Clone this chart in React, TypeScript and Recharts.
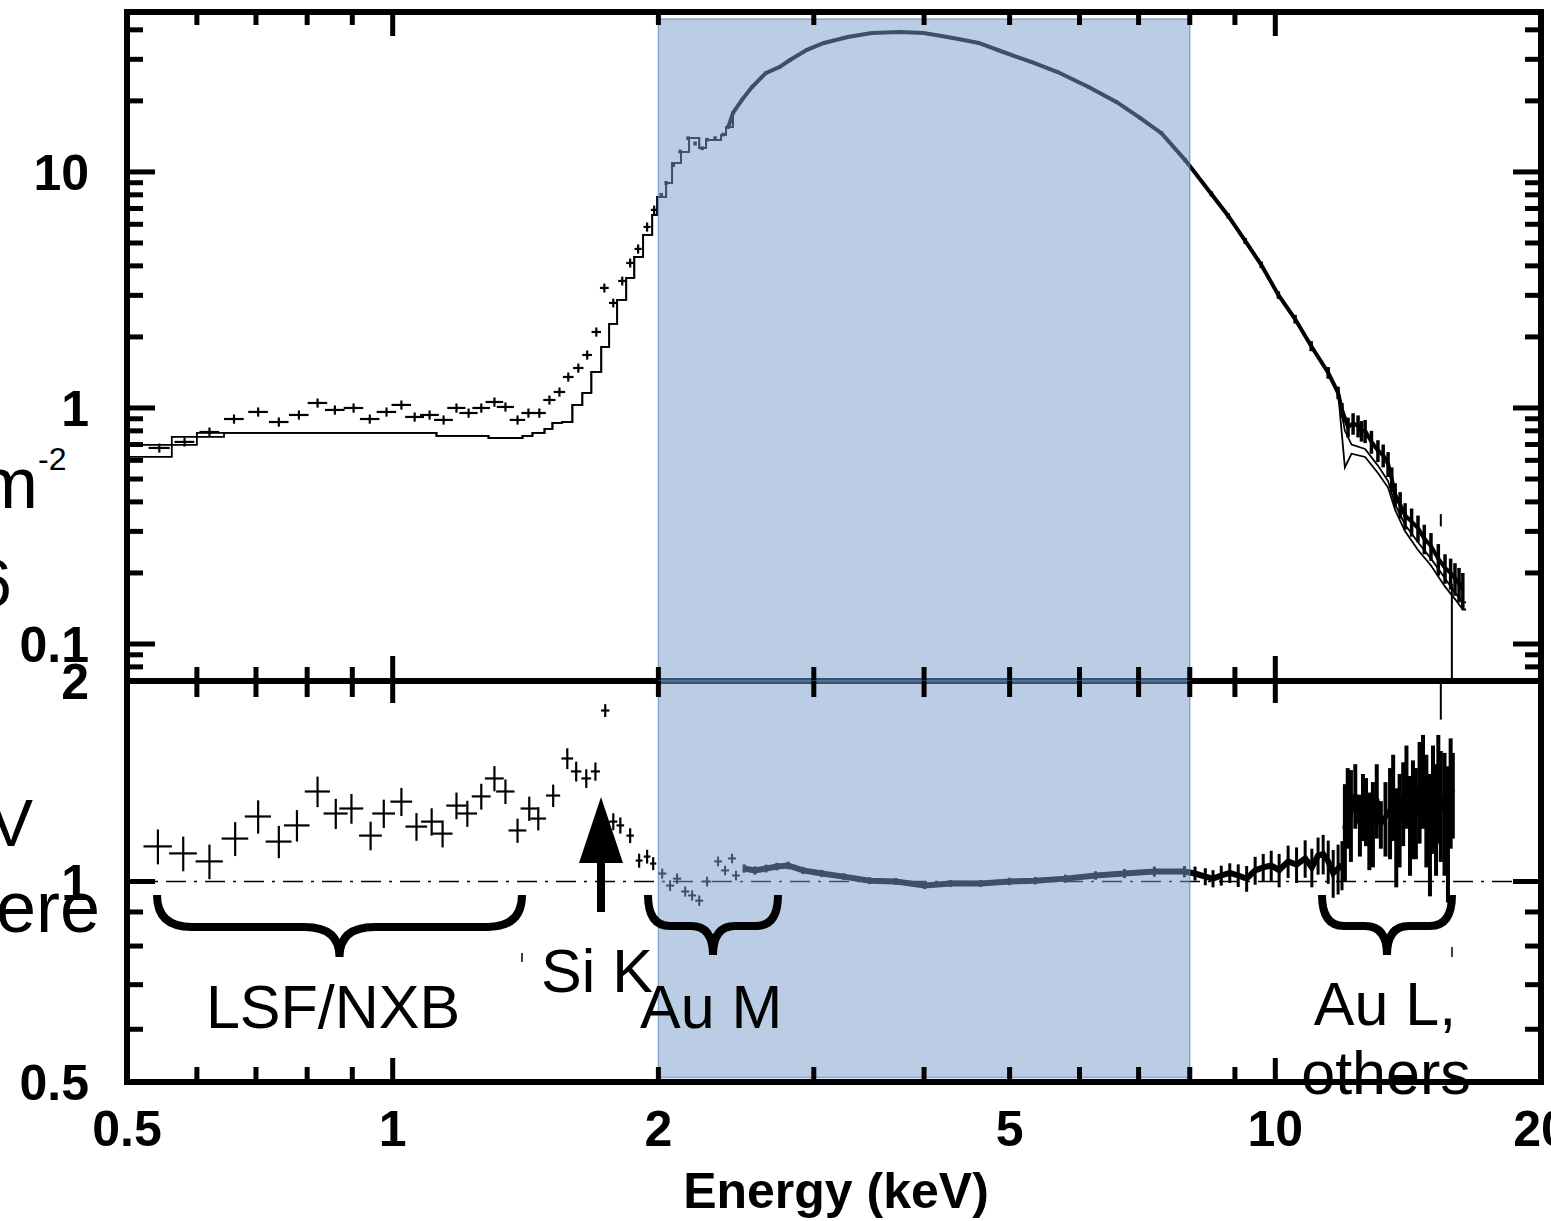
import React from 'react'
import {
  ComposedChart,
  Line,
  Scatter,
  ErrorBar,
  XAxis,
  YAxis,
  ReferenceArea,
  ReferenceLine,
} from 'recharts'

// ---------- axes ----------
const X_TICKS = [0.5, 0.6, 0.7, 0.8, 0.9, 1, 2, 3, 4, 5, 6, 7, 8, 9, 10, 20]
const X_LABELS = [0.5, 1, 2, 5, 10, 20]
const X_MAJOR = [1, 10]
const X_DOMAIN = [0.5, 20]
const BAND = [2, 8] // shaded energy range (keV)

const TOP_Y_TICKS = [0.08, 0.09, 0.1, 0.2, 0.3, 0.4, 0.5, 0.6, 0.7, 0.8, 0.9, 1, 2, 3, 4, 5, 6, 7, 8, 9, 10, 20, 30, 40]
const TOP_Y_LABELS = [0.1, 1, 10]
const TOP_Y_DOMAIN = [0.0697, 47.6]
const TOP_BAND_Y = [0.0697, 44.5]

const RATIO_TICKS = [0.5, 0.6, 0.7, 0.8, 0.9, 1, 2]
const RATIO_LABELS = [0.5, 1, 2]
const RATIO_MAJOR = [1]
const RATIO_DOMAIN = [0.5, 2]
const RATIO_BAND_Y = [0.508, 2]

// ---------- top panel: spectrum ----------
// low-energy binned data (crosses)
const lowE = [0.544, 0.581, 0.62, 0.661, 0.704, 0.743, 0.783, 0.822, 0.86, 0.903, 0.942, 0.984, 1.023, 1.059, 1.101, 1.142, 1.181, 1.219, 1.26, 1.304, 1.342, 1.385, 1.425, 1.466, 1.505, 1.545, 1.581, 1.623, 1.661, 1.701, 1.737, 1.778, 1.82, 1.858, 1.897, 1.942, 1.978]
const lowRate = [0.677, 0.718, 0.791, 0.898, 0.962, 0.872, 0.934, 1.05, 0.981, 1.0, 0.898, 0.962, 1.03, 0.916, 0.934, 0.89, 1.0, 0.952, 1.0, 1.06, 1.01, 0.89, 0.952, 0.952, 1.081, 1.169, 1.353, 1.477, 1.677, 2.099, 3.225, 2.786, 3.452, 4.115, 4.718, 5.847, 6.902]
const lowHalfW = [0.015, 0.015, 0.016, 0.017, 0.018, 0.019, 0.02, 0.021, 0.022, 0.023, 0.024, 0.025, 0.026, 0.026, 0.027, 0.028, 0.028, 0.029, 0.029, 0.03, 0.03, 0.028, 0.026, 0.025, 0.024, 0.023, 0.022, 0.022, 0.021, 0.021, 0.02, 0.02, 0.019, 0.019, 0.018, 0.018, 0.017]
const lowRateErr = [0.03, 0.032, 0.035, 0.04, 0.043, 0.039, 0.042, 0.047, 0.044, 0.045, 0.04, 0.043, 0.046, 0.041, 0.042, 0.04, 0.045, 0.043, 0.045, 0.048, 0.045, 0.04, 0.043, 0.043, 0.048, 0.052, 0.06, 0.066, 0.075, 0.094, 0.14, 0.12, 0.15, 0.18, 0.21, 0.26, 0.3]

// dense data above 2 keV
const hiE = [2.015, 2.041, 2.079, 2.117, 2.161, 2.201, 2.242, 2.271, 2.319, 2.368, 2.4, 2.43, 2.487, 2.553, 2.649, 2.747, 2.819, 2.947, 3.08, 3.278, 3.491, 3.754, 3.996, 4.299, 4.612, 4.909, 5.281, 5.667, 6.144, 6.606, 7.033, 7.43, 7.909, 8.464, 8.845, 9.245, 9.64, 10.08, 10.53, 10.98, 11.48, 11.78, 11.9, 12.09, 12.25, 12.41, 12.52, 12.64, 12.85, 13.07, 13.25, 13.42, 13.55, 13.67, 13.85, 14.03, 14.27, 14.51, 14.75, 15.01, 15.3, 15.57, 15.8, 15.98, 16.15, 16.31]
const hiRate = [7.99, 8.98, 10.7, 12.2, 13.9, 13.2, 12.6, 13.7, 13.9, 14.4, 15.5, 17.8, 20.2, 22.9, 26.3, 27.9, 29.8, 32.9, 35.2, 37.3, 38.8, 39.2, 38.8, 37.0, 35.2, 32.3, 29.3, 26.5, 22.9, 19.8, 16.9, 14.6, 11.2, 8.07, 6.51, 5.1, 4.04, 3.01, 2.38, 1.83, 1.41, 1.16, 0.98, 0.83, 0.86, 0.84, 0.8, 0.8, 0.72, 0.66, 0.63, 0.58, 0.5, 0.43, 0.39, 0.35, 0.33, 0.31, 0.28, 0.26, 0.23, 0.21, 0.2, 0.19, 0.18, 0.17]
const hiRateErr = [0.15, 0.17, 0.2, 0.22, 0.25, 0.25, 0.23, 0.25, 0.25, 0.26, 0.28, 0.3, 0.34, 0.37, 0.4, 0.42, 0.44, 0.47, 0.5, 0.52, 0.54, 0.55, 0.55, 0.53, 0.51, 0.48, 0.45, 0.42, 0.38, 0.34, 0.3, 0.28, 0.24, 0.2, 0.17, 0.15, 0.13, 0.11, 0.1, 0.09, 0.08, 0.07, 0.07, 0.08, 0.09, 0.09, 0.08, 0.09, 0.08, 0.07, 0.07, 0.07, 0.06, 0.05, 0.05, 0.045, 0.045, 0.04, 0.04, 0.035, 0.035, 0.03, 0.03, 0.03, 0.03, 0.03]
const HI_LINE_START = 10 // the trace is drawn from 2.4 keV on

// isolated high-energy bins with long error bars
const outE = [15.4, 15.85]
const outRate = [0.335, 0.17]
const outRateErr = [[0.02, 0.02], [0.1, 0.01]]

// folded model (histogram below 2.43 keV, value starts at each edge)
const modelE = [0.5, 0.562, 0.6, 0.644, 1.121, 1.284, 1.403, 1.44, 1.486, 1.517, 1.556, 1.598, 1.64, 1.679, 1.723, 1.759, 1.796, 1.839, 1.878, 1.922, 1.968, 1.994, 2.041, 2.073, 2.122, 2.167, 2.225, 2.265, 2.355, 2.386, 2.43, 2.487, 2.553, 2.649, 2.747, 2.819, 2.947, 3.08, 3.278, 3.491, 3.754, 3.996, 4.299, 4.612, 4.909, 5.281, 5.667, 6.144, 6.606, 7.033, 7.43, 7.909, 8.464, 8.845, 9.245, 9.64, 10.08, 10.53, 10.98, 11.48, 11.78, 11.99, 12.2, 12.64, 13.07, 13.42, 13.67, 14.03, 14.51, 15.01, 15.57, 15.98, 16.31, 16.45]
const modelA = [0.697, 0.754, 0.784, 0.784, 0.761, 0.746, 0.761, 0.784, 0.815, 0.864, 0.872, 1.03, 1.158, 1.421, 1.814, 2.27, 2.869, 3.555, 4.364, 5.409, 6.574, 7.836, 8.98, 10.92, 12.15, 13.94, 12.64, 13.66, 14.35, 15.51, 17.8, 20.2, 22.9, 26.3, 27.9, 29.8, 32.9, 35.2, 37.3, 38.8, 39.2, 38.8, 37.0, 35.2, 32.3, 29.3, 26.5, 22.9, 19.8, 16.9, 14.6, 11.2, 8.07, 6.51, 5.1, 4.04, 3.01, 2.38, 1.83, 1.41, 1.16, 0.8, 0.7, 0.67, 0.57, 0.49, 0.39, 0.32, 0.27, 0.23, 0.19, 0.165, 0.15, 0.15]
const modelB = [0.62, 0.697, 0.754, 0.784, 0.761, 0.746, 0.761, 0.784, 0.815, 0.864, 0.872, 1.03, 1.158, 1.421, 1.814, 2.27, 2.869, 3.555, 4.364, 5.409, 6.574, 7.836, 8.98, 10.92, 12.15, 13.94, 12.64, 13.66, 14.35, 15.51, 17.8, 20.2, 22.9, 26.3, 27.9, 29.8, 32.9, 35.2, 37.3, 38.8, 39.2, 38.8, 37.0, 35.2, 32.3, 29.3, 26.5, 22.9, 19.8, 16.9, 14.6, 11.2, 8.07, 6.51, 5.1, 4.04, 3.01, 2.38, 1.83, 1.41, 1.16, 0.56, 0.64, 0.62, 0.53, 0.46, 0.37, 0.3, 0.25, 0.215, 0.175, 0.155, 0.14, 0.14]
const MODEL_STEP_END = 30 // index of 2.43 keV: histogram up to here, fine bins after

// ---------- bottom panel: data / model ----------
const ratioLowE = [0.542, 0.579, 0.62, 0.663, 0.704, 0.743, 0.779, 0.822, 0.862, 0.898, 0.944, 0.977, 1.023, 1.064, 1.107, 1.139, 1.181, 1.215, 1.26, 1.304, 1.342, 1.385, 1.428, 1.462, 1.52, 1.577, 1.614, 1.657, 1.697, 1.741, 1.778, 1.811, 1.858, 1.902, 1.942, 1.973]
const ratioLow = [1.129, 1.102, 1.072, 1.16, 1.252, 1.148, 1.214, 1.365, 1.265, 1.287, 1.172, 1.265, 1.318, 1.209, 1.23, 1.18, 1.3, 1.265, 1.342, 1.428, 1.365, 1.193, 1.287, 1.243, 1.346, 1.53, 1.463, 1.428, 1.463, 1.806, 1.23, 1.214, 1.172, 1.075, 1.09, 1.064]
const ratioLowHalfW = [0.02, 0.021, 0.022, 0.023, 0.024, 0.025, 0.026, 0.027, 0.027, 0.028, 0.028, 0.029, 0.029, 0.03, 0.03, 0.03, 0.031, 0.031, 0.031, 0.032, 0.032, 0.032, 0.032, 0.03, 0.028, 0.024, 0.022, 0.021, 0.02, 0.019, 0.019, 0.018, 0.018, 0.017, 0.017, 0.016]
const ratioLowErr = [0.068, 0.066, 0.064, 0.068, 0.072, 0.064, 0.066, 0.072, 0.066, 0.066, 0.058, 0.062, 0.064, 0.058, 0.058, 0.055, 0.06, 0.057, 0.06, 0.062, 0.058, 0.05, 0.054, 0.05, 0.052, 0.055, 0.05, 0.046, 0.046, 0.04, 0.036, 0.034, 0.03, 0.026, 0.026, 0.024]

const ratioMidE = [2.02, 2.062, 2.1, 2.145, 2.184, 2.225, 2.271, 2.337, 2.38, 2.424, 2.449]
const ratioMid = [1.028, 0.986, 1.01, 0.966, 0.953, 0.936, 1.0, 1.072, 1.039, 1.083, 1.021]
const ratioMidHalfW = [0.022, 0.022, 0.022, 0.023, 0.023, 0.023, 0.024, 0.024, 0.025, 0.025, 0.025]
const ratioMidErr = [0.018, 0.018, 0.018, 0.017, 0.017, 0.017, 0.017, 0.018, 0.017, 0.018, 0.017]

const bandE = [2.501, 2.573, 2.649, 2.725, 2.805, 2.916, 3.064, 3.244, 3.472, 3.715, 4.007, 4.288, 4.637, 5.0, 5.348, 5.785, 6.257, 6.747, 7.294, 7.889, 8.11, 8.331, 8.5, 8.685, 8.88, 9.078, 9.28, 9.488, 9.69, 9.894, 10.1, 10.34, 10.57, 10.81, 11.0, 11.18, 11.33, 11.48, 11.63, 11.78, 11.9]
const bandRatio = [1.046, 1.039, 1.046, 1.053, 1.057, 1.039, 1.028, 1.017, 1.003, 1.0, 0.986, 0.993, 0.993, 1.0, 1.003, 1.01, 1.021, 1.028, 1.035, 1.035, 1.028, 1.017, 1.01, 1.021, 1.03, 1.021, 1.01, 1.039, 1.05, 1.057, 1.04, 1.072, 1.06, 1.083, 1.05, 1.094, 1.1, 1.072, 1.03, 1.046, 1.06]
const bandErr = [0.015, 0.015, 0.014, 0.014, 0.014, 0.013, 0.013, 0.012, 0.012, 0.012, 0.012, 0.012, 0.012, 0.013, 0.013, 0.014, 0.015, 0.016, 0.018, 0.02, 0.025, 0.03, 0.03, 0.035, 0.035, 0.04, 0.045, 0.05, 0.05, 0.055, 0.06, 0.06, 0.065, 0.07, 0.07, 0.07, 0.075, 0.08, 0.085, 0.09, 0.09]

const hiRatioE = [11.99, 12.08, 12.18, 12.32, 12.47, 12.57, 12.67, 12.78, 12.9, 13.03, 13.17, 13.33, 13.49, 13.6, 13.71, 13.83, 13.96, 14.08, 14.21, 14.32, 14.43, 14.57, 14.7, 14.83, 14.97, 15.09, 15.21, 15.3, 15.4, 15.55, 15.69, 15.8, 15.89]
const hiRatio = [1.2, 1.3, 1.27, 1.35, 1.22, 1.3, 1.28, 1.2, 1.23, 1.33, 1.22, 1.25, 1.28, 1.35, 1.18, 1.25, 1.32, 1.4, 1.23, 1.3, 1.28, 1.38, 1.43, 1.3, 1.2, 1.35, 1.26, 1.4, 1.32, 1.29, 1.21, 1.38, 1.36]
const hiRatioErr = [0.2, 0.18, 0.2, 0.15, 0.13, 0.15, 0.15, 0.16, 0.18, 0.17, 0.1, 0.16, 0.2, 0.2, 0.2, 0.2, 0.19, 0.2, 0.21, 0.22, 0.2, 0.24, 0.23, 0.25, 0.25, 0.25, 0.24, 0.26, 0.25, 0.27, 0.28, 0.26, 0.2]

const outRatioE = [15.4]
const outRatio = [1.9]
const outRatioErr = [[0.15, 0.1]]

// ---------- tables for the library ----------
const topLow = lowE.map((e, i) => ({ e, v: lowRate[i], ex: lowHalfW[i], ey: lowRateErr[i] }))
const topHi = hiE.map((e, i) => ({ e, v: hiRate[i], ey: hiRateErr[i] }))
const topHiTrace = topHi.slice(HI_LINE_START)
const topOut = outE.map((e, i) => ({ e, v: outRate[i], ey: outRateErr[i] }))
const modelTableA = modelE.map((e, i) => ({ e, v: modelA[i] }))
const modelTableB = modelE.map((e, i) => ({ e, v: modelB[i] }))
const modelStepA = modelTableA.slice(0, MODEL_STEP_END + 1)
const modelStepB = modelTableB.slice(0, MODEL_STEP_END + 1)
const modelFineA = modelTableA.slice(MODEL_STEP_END)
const modelFineB = modelTableB.slice(MODEL_STEP_END)

const rLow = ratioLowE.map((e, i) => ({ e, v: ratioLow[i], ex: ratioLowHalfW[i], ey: ratioLowErr[i] }))
const rMid = ratioMidE.map((e, i) => ({ e, v: ratioMid[i], ex: ratioMidHalfW[i], ey: ratioMidErr[i] }))
const rBand = bandE.map((e, i) => ({ e, v: bandRatio[i], ey: bandErr[i] }))
const rHi = hiRatioE.map((e, i) => ({ e, v: hiRatio[i], ey: hiRatioErr[i] }))
const rOut = outRatioE.map((e, i) => ({ e, v: outRatio[i], ey: outRatioErr[i] }))

// ---------- layout ----------
const W = 1551
const H = 1221
// axes are 1px thick boxes, so margins are 1px short of the frame
const TOP_MARGIN = { top: 11, right: 9, bottom: 539, left: 126 }
const BOT_MARGIN = { top: 680, right: 9, bottom: 138, left: 126 }
const TICK_FONT = "'Liberation Sans', Arial, Helvetica, sans-serif"
const SHADE = 'rgb(119,156,202)'
const AXIS_LINE = { stroke: '#000', strokeWidth: 6, strokeLinecap: 'square' as const }

const noShape = () => <g />

const xTick = (dir: number, withLabels: boolean, minor: number, major: number) => (props: any) => {
  const { x, y, payload } = props
  const v = payload.value
  const edge = v === X_DOMAIN[0] || v === X_DOMAIN[1]
  const len = X_MAJOR.includes(v) ? major : minor
  return (
    <g>
      {!edge && <line x1={x} x2={x} y1={y} y2={y + dir * len} stroke="#000" strokeWidth={5} />}
      {withLabels && X_LABELS.includes(v) && (
        <text x={x} y={y + 64} textAnchor="middle" fontFamily={TICK_FONT} fontWeight="bold" fontSize={50} fill="#000">
          {String(v)}
        </text>
      )}
    </g>
  )
}

const yTick = (dir: number, majors: number[], labels: number[] | null, domain: number[]) => (props: any) => {
  const { x, y, payload } = props
  const v = payload.value
  const edge = v === domain[0] || v === domain[1]
  const len = majors.includes(v) ? 28 : 16
  return (
    <g>
      {!edge && <line x1={x} x2={x + dir * len} y1={y} y2={y} stroke="#000" strokeWidth={5} />}
      {labels && labels.includes(v) && (
        <text x={x - 38} y={y + 18} textAnchor="end" fontFamily={TICK_FONT} fontWeight="bold" fontSize={50} fill="#000">
          {String(v)}
        </text>
      )}
    </g>
  )
}

const axisCommon = {
  type: 'number' as const,
  scale: 'log' as const,
  allowDataOverflow: true,
  interval: 0 as const,
  tickLine: false,
  tickSize: 0,
  tickMargin: 0,
}

function SpectrumPanel() {
  return (
    <ComposedChart width={W} height={H} margin={TOP_MARGIN}>
      <XAxis {...axisCommon} xAxisId="b" dataKey="e" domain={X_DOMAIN} ticks={X_TICKS} orientation="bottom" height={1} axisLine={AXIS_LINE} tick={xTick(-1, false, 14, 25)} />
      <XAxis {...axisCommon} xAxisId="t" dataKey="e" domain={X_DOMAIN} ticks={X_TICKS} orientation="top" height={1} axisLine={AXIS_LINE} tick={xTick(1, false, 13, 24)} />
      <YAxis {...axisCommon} yAxisId="l" domain={TOP_Y_DOMAIN} ticks={TOP_Y_TICKS} width={1} axisLine={AXIS_LINE} tick={yTick(1, TOP_Y_LABELS, TOP_Y_LABELS, [])} />
      <YAxis {...axisCommon} yAxisId="r" orientation="right" domain={TOP_Y_DOMAIN} ticks={TOP_Y_TICKS} width={1} axisLine={AXIS_LINE} tick={yTick(-1, TOP_Y_LABELS, null, [])} />

      <Line xAxisId="b" yAxisId="l" data={modelStepB} dataKey="v" type="stepAfter" stroke="#000" strokeWidth={1.8} dot={false} isAnimationActive={false} />
      <Line xAxisId="b" yAxisId="l" data={modelStepA} dataKey="v" type="stepAfter" stroke="#000" strokeWidth={1.8} dot={false} isAnimationActive={false} />
      <Line xAxisId="b" yAxisId="l" data={modelFineB} dataKey="v" type="linear" stroke="#000" strokeWidth={1.8} dot={false} isAnimationActive={false} />
      <Line xAxisId="b" yAxisId="l" data={modelFineA} dataKey="v" type="linear" stroke="#000" strokeWidth={1.8} dot={false} isAnimationActive={false} />
      <Line xAxisId="b" yAxisId="l" data={topHiTrace} dataKey="v" type="linear" stroke="#000" strokeWidth={4} dot={false} isAnimationActive={false} />

      <Scatter xAxisId="b" yAxisId="l" data={topLow} dataKey="v" shape={noShape} isAnimationActive={false}>
        <ErrorBar dataKey="ex" direction="x" width={0} stroke="#000" strokeWidth={2.2} isAnimationActive={false} />
        <ErrorBar dataKey="ey" direction="y" width={0} stroke="#000" strokeWidth={2.2} isAnimationActive={false} />
      </Scatter>
      <Scatter xAxisId="b" yAxisId="l" data={topHi} dataKey="v" shape={noShape} isAnimationActive={false}>
        <ErrorBar dataKey="ey" direction="y" width={0} stroke="#000" strokeWidth={3.5} isAnimationActive={false} />
      </Scatter>
      <Scatter xAxisId="b" yAxisId="l" data={topOut} dataKey="v" shape={noShape} isAnimationActive={false}>
        <ErrorBar dataKey="ey" direction="y" width={0} stroke="#000" strokeWidth={2} isAnimationActive={false} />
      </Scatter>

      <ReferenceArea
        xAxisId="b"
        yAxisId="l"
        x1={BAND[0]}
        x2={BAND[1]}
        y1={TOP_BAND_Y[0]}
        y2={TOP_BAND_Y[1]}
        ifOverflow="visible"
        fill={SHADE}
        fillOpacity={0.51}
        stroke="#4f7fbf"
        strokeOpacity={0.6}
        strokeWidth={1.5}
        zIndex={1500}
      />
    </ComposedChart>
  )
}

function RatioPanel() {
  return (
    <ComposedChart width={W} height={H} margin={BOT_MARGIN}>
      <XAxis {...axisCommon} xAxisId="b" dataKey="e" domain={X_DOMAIN} ticks={X_TICKS} orientation="bottom" height={1} axisLine={AXIS_LINE} tick={xTick(-1, true, 15, 24)} />
      <XAxis {...axisCommon} xAxisId="t" dataKey="e" domain={X_DOMAIN} ticks={X_TICKS} orientation="top" height={1} axisLine={false} tick={xTick(1, false, 16, 22)} />
      <YAxis {...axisCommon} yAxisId="l" domain={RATIO_DOMAIN} ticks={RATIO_TICKS} width={1} axisLine={AXIS_LINE} tick={yTick(1, RATIO_MAJOR, RATIO_LABELS, RATIO_DOMAIN)} />
      <YAxis {...axisCommon} yAxisId="r" orientation="right" domain={RATIO_DOMAIN} ticks={RATIO_TICKS} width={1} axisLine={AXIS_LINE} tick={yTick(-1, RATIO_MAJOR, null, RATIO_DOMAIN)} />

      <ReferenceLine xAxisId="b" yAxisId="l" y={1} stroke="#000" strokeWidth={1.5} strokeDasharray="20 8 3 8" />

      <Scatter xAxisId="b" yAxisId="l" data={rLow} dataKey="v" shape={noShape} isAnimationActive={false}>
        <ErrorBar dataKey="ex" direction="x" width={0} stroke="#000" strokeWidth={2.2} isAnimationActive={false} />
        <ErrorBar dataKey="ey" direction="y" width={0} stroke="#000" strokeWidth={2.2} isAnimationActive={false} />
      </Scatter>
      <Scatter xAxisId="b" yAxisId="l" data={rMid} dataKey="v" shape={noShape} isAnimationActive={false}>
        <ErrorBar dataKey="ex" direction="x" width={0} stroke="#000" strokeWidth={2} isAnimationActive={false} />
        <ErrorBar dataKey="ey" direction="y" width={0} stroke="#000" strokeWidth={2} isAnimationActive={false} />
      </Scatter>

      <Line xAxisId="b" yAxisId="l" data={rBand} dataKey="v" type="linear" stroke="#000" strokeWidth={6} dot={false} isAnimationActive={false} />
      <Scatter xAxisId="b" yAxisId="l" data={rBand} dataKey="v" shape={noShape} isAnimationActive={false}>
        <ErrorBar dataKey="ey" direction="y" width={0} stroke="#000" strokeWidth={3} isAnimationActive={false} />
      </Scatter>

      <Line xAxisId="b" yAxisId="l" data={rHi} dataKey="v" type="linear" stroke="#000" strokeWidth={5} dot={false} isAnimationActive={false} />
      <Scatter xAxisId="b" yAxisId="l" data={rHi} dataKey="v" shape={noShape} isAnimationActive={false}>
        <ErrorBar dataKey="ey" direction="y" width={0} stroke="#000" strokeWidth={4} isAnimationActive={false} />
      </Scatter>
      <Scatter xAxisId="b" yAxisId="l" data={rOut} dataKey="v" shape={noShape} isAnimationActive={false}>
        <ErrorBar dataKey="ey" direction="y" width={0} stroke="#000" strokeWidth={2} isAnimationActive={false} />
      </Scatter>

      <ReferenceArea
        xAxisId="b"
        yAxisId="l"
        x1={BAND[0]}
        x2={BAND[1]}
        y1={RATIO_BAND_Y[0]}
        y2={RATIO_BAND_Y[1]}
        ifOverflow="visible"
        fill={SHADE}
        fillOpacity={0.51}
        stroke="#4f7fbf"
        strokeOpacity={0.6}
        strokeWidth={1.5}
        zIndex={1500}
      />
    </ComposedChart>
  )
}

// brace opening upwards: ends at y0, bar at y1, tip at y2
const brace = (x1: number, x2: number, y0: number, y1: number, y2: number, r: number) => {
  const m = (x1 + x2) / 2
  return `M${x1},${y0} Q${x1},${y1} ${x1 + r},${y1} L${m - r},${y1} Q${m},${y1} ${m},${y2} Q${m},${y1} ${m + r},${y1} L${x2 - r},${y1} Q${x2},${y1} ${x2},${y0}`
}

function Annotations() {
  const txt = { fontFamily: TICK_FONT, fill: '#000' }
  return (
    <svg width={W} height={H} style={{ position: 'absolute', left: 0, top: 0, pointerEvents: 'none' }}>
      {/* slide text clipped at the left edge */}
      <text x={-58} y={508} fontSize={72} {...txt}>
        cm<tspan fontSize={32} dy={-38}>-2</tspan>
      </text>
      <text x={-25} y={606} fontSize={66} {...txt}>6</text>
      <text x={-11} y={846} fontSize={66} {...txt}>V</text>
      <text x={-4} y={932} fontSize={72} {...txt}>ere</text>

      <path d={brace(157, 522, 895, 927, 957, 35)} fill="none" stroke="#000" strokeWidth={8} />
      <path d={brace(648, 778, 895, 926, 955, 22)} fill="none" stroke="#000" strokeWidth={8} />
      <path d={brace(1322, 1452, 895, 926, 955, 22)} fill="none" stroke="#000" strokeWidth={8} />
      <line x1={522} x2={522} y1={953} y2={962} stroke="#000" strokeWidth={1.5} />
      <line x1={1452} x2={1452} y1={947} y2={957} stroke="#000" strokeWidth={1.5} />

      <line x1={601} x2={601} y1={858} y2={912} stroke="#000" strokeWidth={8} />
      <polygon points="579,863 623,863 601,797" fill="#000" />

      <text x={333} y={1028} fontSize={61} textAnchor="middle" {...txt}>LSF/NXB</text>
      <text x={541} y={992} fontSize={61} {...txt}>Si K</text>
      <text x={640} y={1028} fontSize={61} {...txt}>Au M</text>
      <text x={1385} y={1025} fontSize={61} textAnchor="middle" {...txt}>Au L,</text>
      <text x={1386} y={1094} fontSize={61} textAnchor="middle" {...txt}>others</text>

      <text x={836} y={1208} fontSize={50} fontWeight="bold" textAnchor="middle" {...txt}>Energy (keV)</text>
    </svg>
  )
}

export default function App() {
  return (
    <div style={{ position: 'absolute', left: 0, top: 0, width: W, height: H, background: '#fff', overflow: 'hidden' }}>
      <div style={{ position: 'absolute', left: 0, top: 0 }}>
        <SpectrumPanel />
      </div>
      <div style={{ position: 'absolute', left: 0, top: 0 }}>
        <RatioPanel />
      </div>
      <Annotations />
    </div>
  )
}
